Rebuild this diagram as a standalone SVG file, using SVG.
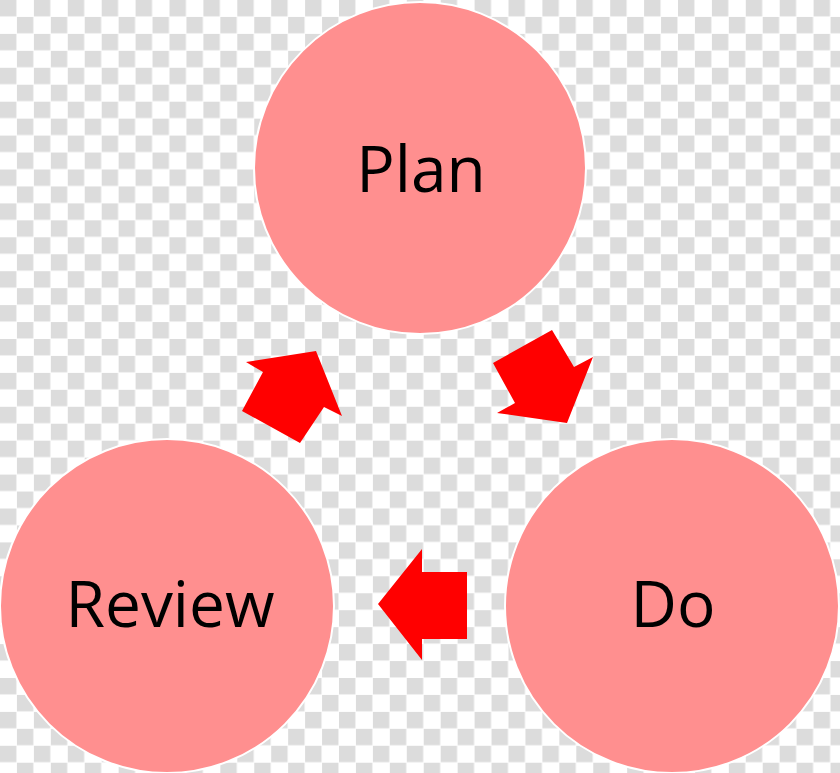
<svg xmlns="http://www.w3.org/2000/svg" width="840" height="773" viewBox="0 0 840 773">
  <defs>
    <pattern id="checker" x="0" y="0" width="33.9" height="33.9" patternUnits="userSpaceOnUse">
      <rect x="0" y="0" width="33.9" height="33.9" fill="#ffffff"/>
      <rect x="0" y="0" width="16.4" height="16.4" fill="#dcdcdc"/>
      <rect x="16.95" y="16.95" width="16.4" height="16.4" fill="#dcdcdc"/>
    </pattern>
    <style>
      .node circle { fill: #ff8f8f; stroke: #ffffff; stroke-width: 2; }
      .node text { font-family: "Open Sans", "Liberation Sans", sans-serif; font-size: 64px; fill: #000000; text-anchor: middle; }
      .arrow { fill: #ff0000; stroke: none; }
    </style>
  </defs>
  <rect x="0" y="0" width="840" height="773" fill="url(#checker)"/>
  <g id="plan" class="node">
    <circle cx="420" cy="168" r="166"/>
    <text x="421" y="192">Plan</text>
  </g>
  <g id="review" class="node">
    <circle cx="167" cy="606" r="167"/>
    <text x="170" y="627">Review</text>
  </g>
  <g id="do" class="node">
    <circle cx="672" cy="606" r="167"/>
    <text x="673" y="627">Do</text>
  </g>
  <g id="connectors">
    <polygon class="arrow" points="316,351 246,362 263,372 242,411 300,443 324,407 342,416"/>
    <polygon class="arrow" points="493,363 552,330 574,367 593,357 567,423 497,413 515,403"/>
    <polygon class="arrow" points="378,604 422,549 422,572 467,572 467,639 422,639 422,660"/>
  </g>
</svg>
